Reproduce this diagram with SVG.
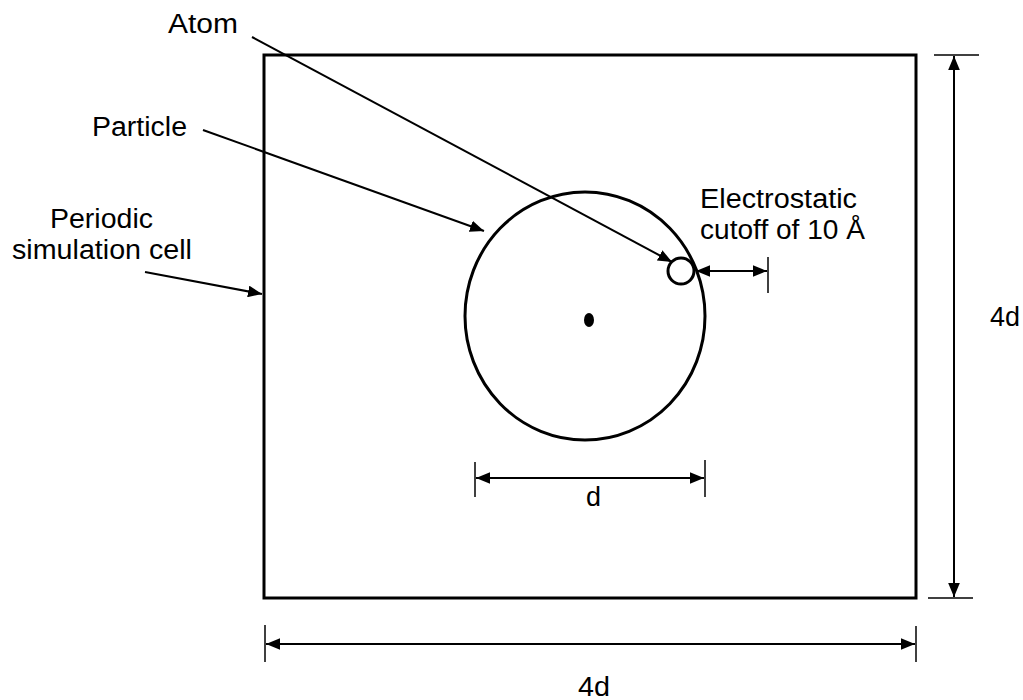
<svg xmlns="http://www.w3.org/2000/svg" width="1023" height="700" viewBox="0 0 1023 700">
<style>
text{font-family:"Liberation Sans",Arial,sans-serif;font-size:27px;fill:#000}
.thick{fill:none;stroke:#000;stroke-width:3}
.ln{fill:none;stroke:#000;stroke-width:2}
.tick{fill:none;stroke:#000;stroke-width:1.5}
</style>
<defs>
<marker id="ah" markerUnits="userSpaceOnUse" markerWidth="14" markerHeight="12" refX="12" refY="5" orient="auto-start-reverse" viewBox="0 0 12 10">
<path d="M0,0 L12,5 L0,10 Z" fill="#000"/>
</marker>
</defs>
<rect fill="#fff" width="1023" height="700"/>
<g id="cell"><rect class="thick" x="264" y="55" width="652" height="543"/></g>
<g id="particle"><ellipse class="thick" cx="585" cy="316" rx="120" ry="124"/>
<ellipse cx="589" cy="320" rx="5" ry="7" fill="#000"/></g>
<g id="atom"><circle class="thick" cx="681" cy="271" r="13"/></g>
<g id="connectors">
<line class="ln" x1="252" y1="37" x2="672" y2="262" marker-end="url(#ah)"/>
<line class="ln" x1="203" y1="130" x2="484" y2="231" marker-end="url(#ah)"/>
<line class="ln" x1="145" y1="272" x2="262" y2="294" marker-end="url(#ah)"/>
<line class="ln" x1="696" y1="271" x2="767" y2="271" marker-start="url(#ah)" marker-end="url(#ah)"/>
<line class="tick" x1="768" y1="257" x2="768" y2="293"/>
<line class="ln" x1="476" y1="478" x2="704" y2="478" marker-start="url(#ah)" marker-end="url(#ah)"/>
<line class="tick" x1="475" y1="462" x2="475" y2="497"/>
<line class="tick" x1="705" y1="460" x2="705" y2="497"/>
<line class="ln" x1="954" y1="56" x2="954" y2="597" marker-start="url(#ah)" marker-end="url(#ah)"/>
<line class="tick" x1="934" y1="55" x2="979" y2="55"/>
<line class="tick" x1="928" y1="598" x2="973" y2="598"/>
<line class="ln" x1="266" y1="644" x2="915" y2="644" marker-start="url(#ah)" marker-end="url(#ah)"/>
<line class="tick" x1="265" y1="625" x2="265" y2="662"/>
<line class="tick" x1="916" y1="626" x2="916" y2="662"/>
</g>
<g id="labels">
<text x="168" y="33" textLength="70" lengthAdjust="spacingAndGlyphs">Atom</text>
<text x="92" y="136" textLength="95" lengthAdjust="spacingAndGlyphs">Particle</text>
<text x="50" y="228" textLength="103" lengthAdjust="spacingAndGlyphs">Periodic</text>
<text x="12" y="259" textLength="180" lengthAdjust="spacingAndGlyphs">simulation cell</text>
<text x="700" y="208" textLength="157" lengthAdjust="spacingAndGlyphs">Electrostatic</text>
<text x="700" y="239" textLength="165" lengthAdjust="spacingAndGlyphs">cutoff of 10 Å</text>
<text x="586" y="506" textLength="15" lengthAdjust="spacingAndGlyphs">d</text>
<text x="990" y="326" textLength="30" lengthAdjust="spacingAndGlyphs">4d</text>
<text x="578" y="696" textLength="32" lengthAdjust="spacingAndGlyphs">4d</text>
</g>
</svg>
